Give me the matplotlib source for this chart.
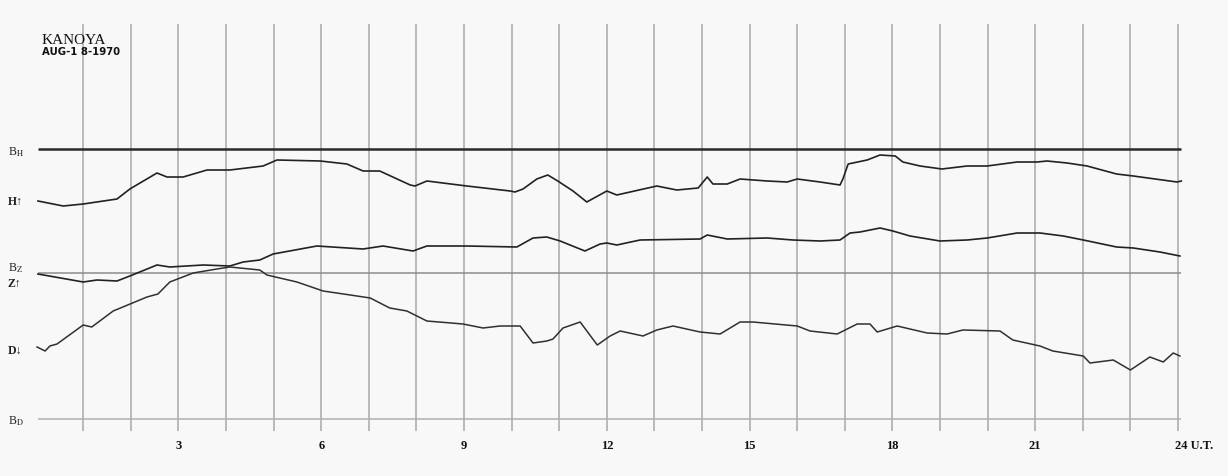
import matplotlib

matplotlib.use("Agg")
import matplotlib.pyplot as plt

# Kanoya magnetogram, 18 Aug 1970. Time in hours U.T., trace height in
# chart units above the D baseline (1 unit ~ 1 px on the original scan).
h_time = [0.05, 0.58, 1.00, 1.71, 1.98, 2.55, 2.76, 3.10, 3.60, 4.08, 4.78,
          5.07, 5.98, 6.54, 6.88, 7.23, 7.87, 7.97, 8.22, 9.06, 9.97, 10.07,
          10.24, 10.53, 10.76, 10.97, 11.29, 11.58, 12.00, 12.21, 12.49,
          13.05, 13.47, 13.92, 14.11, 14.23, 14.53, 14.80, 15.37, 15.79,
          16.00, 16.48, 16.90, 16.96, 17.07, 17.47, 17.74, 18.06, 18.22,
          18.58, 19.04, 19.57, 19.99, 20.62, 21.04, 21.25, 21.67, 22.09,
          22.71, 23.06, 23.98, 24.07]
h_trace = [218, 213, 215, 220, 230, 246, 242, 242, 249, 249, 253,
           259, 258, 255, 248, 248, 234, 233, 238, 233, 228, 227,
           230, 240, 244, 238, 228, 217, 228, 224, 227,
           233, 229, 231, 242, 235, 235, 240, 238, 237,
           240, 237, 234, 240, 255, 259, 264, 263, 257,
           253, 250, 253, 253, 257, 257, 258, 256, 253,
           245, 243, 237, 238]

z_time = [0.05, 1.00, 1.29, 1.71, 1.98, 2.55, 2.82, 3.52, 4.08, 4.36, 4.71,
          4.99, 5.91, 6.88, 7.30, 7.93, 8.22, 9.06, 10.11, 10.45, 10.74,
          11.02, 11.54, 11.86, 12.00, 12.21, 12.70, 13.96, 14.11, 14.53,
          15.37, 15.91, 16.48, 16.90, 17.11, 17.32, 17.74, 18.01, 18.37,
          19.00, 19.57, 19.99, 20.62, 21.10, 21.59, 22.01, 22.71, 23.06,
          23.62, 24.04]
z_trace = [145, 137, 139, 138, 143, 154, 152, 154, 153, 157, 159,
           165, 173, 170, 173, 168, 173, 173, 172, 181, 182,
           178, 168, 175, 176, 174, 179, 180, 184, 180,
           181, 179, 178, 179, 186, 187, 191, 188, 183,
           178, 179, 181, 186, 186, 183, 179, 172, 171,
           167, 163]

d_time = [0.03, 0.20, 0.30, 0.45, 1.00, 1.18, 1.63, 2.34, 2.57, 2.82, 3.31,
          3.81, 4.08, 4.71, 4.86, 5.49, 6.04, 6.61, 7.03, 7.44, 7.80, 8.22,
          8.98, 9.40, 9.76, 10.18, 10.45, 10.74, 10.87, 11.08, 11.44, 11.80,
          12.07, 12.28, 12.76, 13.05, 13.39, 13.96, 14.38, 14.80, 15.07,
          16.00, 16.27, 16.84, 17.26, 17.53, 17.68, 18.10, 18.73, 19.15,
          19.48, 20.26, 20.53, 21.10, 21.37, 22.01, 22.15, 22.64, 23.00,
          23.41, 23.69, 23.90, 24.04]
d_trace = [72, 68, 73, 75, 94, 92, 108, 122, 125, 137, 146,
           150, 152, 149, 144, 137, 128, 124, 121, 111, 108, 98,
           95, 91, 93, 93, 76, 78, 80, 91, 97, 74,
           83, 88, 83, 89, 93, 87, 85, 97, 97,
           93, 88, 85, 95, 95, 87, 93, 86, 85,
           89, 88, 79, 73, 68, 63, 56, 59, 49,
           62, 57, 66, 63]

baseline_names = ["H", "Z", "D"]
baseline_levels = [270, 146, 0]

hour_ticks = [3, 6, 9, 12, 15, 18, 21, 24]
hour_grid = list(range(1, 25))

W, H = 1228, 477
fig = plt.figure(figsize=(W / 100, H / 100), dpi=100)
fig.patch.set_facecolor("#f8f8f8")
ax = fig.add_axes([0, 0, 1, 1])
ax.set_facecolor("#f8f8f8")
ax.axis("off")

# hour 0 sits at x=35.6 px, 47.6 px per hour; D baseline at row 420
px0, px_per_h, base_row = 35.6, 47.6, 420
ax.set_xlim(-px0 / px_per_h, (W - px0) / px_per_h)
ax.set_ylim(base_row - H, base_row)


def fx(px):
    return px / W


def fy(py):
    return 1 - py / H


ax.vlines(hour_grid, -12, 395, color="#b4b4b4", linewidth=1.3, zorder=1)

for name, level in zip(baseline_names, baseline_levels):
    if name == "H":
        ax.hlines(level, 0.05, 24.07, color="#2a2a2a", linewidth=1.8, zorder=2)
    elif name == "Z":
        ax.hlines(level, 0.05, 24.07, color="#8c8c8c", linewidth=1.1, zorder=2)
    else:
        ax.hlines(level, 0.05, 24.07, color="#b0b0b0", linewidth=1.1, zorder=2)

ax.plot(h_time, h_trace, color="#222222", linewidth=1.2, zorder=3)
ax.plot(z_time, z_trace, color="#222222", linewidth=1.2, zorder=3)
ax.plot(d_time, d_trace, color="#303030", linewidth=1.1, zorder=3)

serif = "Liberation Serif"
for hr in hour_ticks:
    label = str(hr) if hr != 24 else "24 U.T."
    ha = "center" if hr != 24 else "left"
    xpos = hr if hr != 24 else hr - 0.07
    ax.text(xpos, 420 - 446, label, ha=ha, va="center", fontsize=9,
            fontweight="bold", family=serif, color="#111111")

plt.rcParams["mathtext.fontset"] = "stix"
fig.text(fx(8), fy(152), r"B$_{\rm H}$", fontsize=8.5, family=serif,
         color="#222222", va="center")
fig.text(fx(8), fy(268), r"B$_{\rm Z}$", fontsize=8.5, family=serif,
         color="#222222", va="center")
fig.text(fx(8), fy(421), r"B$_{\rm D}$", fontsize=8.5, family=serif,
         color="#222222", va="center")
fig.text(fx(8), fy(202), "H\u2191", fontsize=8.5, family=serif,
         fontweight="bold", color="#222222", va="center")
fig.text(fx(8), fy(284), "Z\u2191", fontsize=8.5, family=serif,
         fontweight="bold", color="#222222", va="center")
fig.text(fx(8), fy(351), "D\u2193", fontsize=8.5, family=serif,
         fontweight="bold", color="#222222", va="center")

fig.text(fx(42), fy(40), "KANOYA", fontsize=11, family=serif,
         color="#111111", va="center")
fig.text(fx(42), fy(52), "AUG-1 8-1970", fontsize=7.3, family="DejaVu Sans",
         fontweight="bold", color="#111111", va="center")

fig.savefig("out.png", dpi=100, facecolor=fig.get_facecolor())
